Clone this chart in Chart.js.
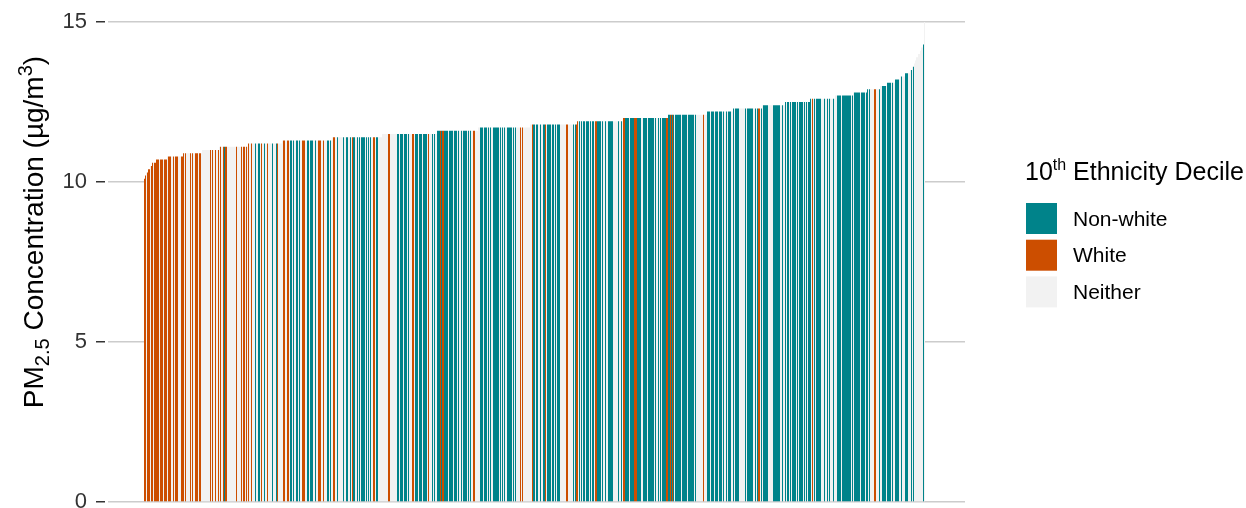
<!DOCTYPE html>
<html>
<head>
<meta charset="utf-8">
<script src="https://cdn.jsdelivr.net/npm/chart.js@4.4.1/dist/chart.umd.min.js"></script>
<style>
	html, body { margin: 0; padding: 0; background: #fff; }
	#wrap { width: 1246px; height: 508px; }
</style>
</head>
<body>
<div id="wrap"><canvas id="chart" width="1246" height="508"></canvas></div>
<script>
// PM2.5 per area, sorted ascending, coloured by which 10th ethnicity decile the area falls in
const FONT = "'Liberation Sans', Arial, sans-serif";

const decile_names = ['Non-white', 'White', 'Neither'];
const decile_codes = ['T', 'O', 'N'];
const decile_colors = ['#00838a', '#cc4e00', '#f2f2f2'];

// concentration levels (ug/m3) and number of areas at each level
const levels = [10.1, 10.2, 10.3, 10.4, 10.5, 10.6, 10.7, 10.8, 10.9, 11.0,
	11.1, 11.2, 11.3, 11.4, 11.5, 11.6, 11.7, 11.8, 11.9, 12.0,
	12.1, 12.2, 12.3, 12.4, 12.5, 12.6, 12.7, 12.8, 12.9, 13.0,
	13.1, 13.2, 13.3, 13.4, 13.5, 13.6, 13.7, 13.8, 13.9, 14.0,
	14.1, 14.2, 14.3, 15.0];
const level_counts = [1, 1, 2, 2, 2, 4, 11, 16, 19, 17,
	29, 34, 50, 50, 55, 41, 52, 47, 46, 45,
	39, 26, 29, 23, 25, 25, 18, 14, 13, 7,
	8, 5, 5, 5, 2, 2, 1, 1, 2, 2,
	1, 2, 1, 1];

// decile of each area in sorted order: T = non-white, O = white, N = neither
const area_deciles = [
	'OONOOONOONOOOOONOOONOOONOOONNO',
	'NOOONNNOOONONNNNONONNOOONOONNN',
	'NNNNNNONONNONNONONNOTOONNNNNNN',
	'NNONNNNONOONONONNONNNTNNTTNONN',
	'TNNONNNNTNNNTONNNNNOONNOONTTNT',
	'NNTTNTNNOOONNTTNTTTNNTNNOOONNO',
	'NNNTTNTNNOONNTNN',
	'NNNTNNTTNNTNOTTNNTNTNTTTTNTNTN',
	'TNNOONTTNNNNNNNNNNOONNNNNNNTTN',
	'TTTNTTTNTNNNOONTTTNTTTNTTTTNON',
	'NNTNTNNTTTOTOOTTTTNTTTTNTTTNTN',
	'NTNTTTTNTNTNNOONNNNNTTTNTTTNTN',
	'TNNTTTTTTNTNTNTNNTTTTTNTNTNNNN',
	'ONONNNNNNNNNOTTNTTNNTNNTTONTTT',
	'TNTTNTNTTTNNNNNNOONNNNNTNTOONT',
	'NTNTTNTTTNTNTTNOOTTTTNTNNTNNTT',
	'TTTNNNNNTNNTNOOTTTTNTTTTOOOTTT',
	'TNNTTTTNTTTTTTNTNNTNTNTTTTOOTT',
	'OTOTNTTTTTTNTTTTTNTTTTTTNTNNNN',
	'NNNONNNTTTNTTTNTTTNTTTNTNNTNTT',
	'TNNTNTTTTNNNNNNTNTTTTTTNNTNTOO',
	'NTNTTTTTNNNNNTTTTTTTNNTNNTNTTN',
	'TNTTTTNTNTTTTNTNTNTTTNONTNTTTT',
	'TNNNTNNTNTNNNTNNNTTTTNTTTTTTTT',
	'TNTNTTTTTTNTTTTNTTNTNNNNOONNNT',
	'NNTTTTNTTTTNTNNTTTTNNTNNNTTTNN',
	'NTNTNNNNNNNNNTN'
].join('');

const y_ticks = [0, 5, 10, 15];

let values = [];
levels.forEach((v, i) => {
	for (let k = 0; k < level_counts[i]; k++) {
		values.push(v);
	}
});
const N = values.length;

let datasets = decile_codes.map((code, c) => ({
	label: decile_names[c],
	data: values.map((v, i) => ({ x: i, y: v })).filter((p, i) => area_deciles[i] == code),
	backgroundColor: decile_colors[c],
	borderWidth: 0,
	inflateAmount: 0,
	grouped: false,
	categoryPercentage: 1,
	barPercentage: 1
}));

// y axis title with sub- and superscript
const axis_title = {
	id: 'axis_title',
	afterDraw(chart) {
		const ctx = chart.ctx;
		const parts = [
			['PM', 28, 0],
			['2.5', 20, 6],
			[' Concentration (\u00b5g/m', 28, 0],
			['3', 20, -11],
			[')', 28, 0]
		];
		ctx.save();
		ctx.fillStyle = '#000';
		ctx.textBaseline = 'alphabetic';
		let total = 0;
		parts.forEach(p => {
			ctx.font = p[1] + 'px ' + FONT;
			total += ctx.measureText(p[0]).width;
		});
		ctx.translate(43, 232);
		ctx.rotate(-Math.PI / 2);
		let x = -total / 2;
		parts.forEach(p => {
			ctx.font = p[1] + 'px ' + FONT;
			ctx.fillText(p[0], x, p[2]);
			x += ctx.measureText(p[0]).width;
		});
		ctx.restore();
	}
};

// legend on the right, title has a superscript so it is drawn by hand
const side_legend = {
	id: 'side_legend',
	afterDraw(chart) {
		const ctx = chart.ctx;
		ctx.save();
		ctx.fillStyle = '#000';
		ctx.textBaseline = 'alphabetic';
		let x = 1025;
		ctx.font = '25px ' + FONT;
		ctx.fillText('10', x, 180);
		x += ctx.measureText('10').width;
		ctx.font = '16px ' + FONT;
		ctx.fillText('th', x, 170);
		x += ctx.measureText('th').width;
		ctx.font = '25px ' + FONT;
		ctx.fillText(' Ethnicity Decile', x, 180);

		ctx.textBaseline = 'middle';
		ctx.font = '21px ' + FONT;
		chart.data.datasets.forEach((ds, i) => {
			let y = 203 + i * 36.7;
			ctx.fillStyle = ds.backgroundColor;
			ctx.fillRect(1026, y, 31, 31);
			ctx.fillStyle = '#000';
			ctx.fillText(ds.label, 1073, y + 17);
		});
		ctx.restore();
	}
};

let chart = new Chart(document.getElementById('chart'), {
	type: 'bar',
	data: { datasets: datasets },
	plugins: [axis_title, side_legend],
	options: {
		responsive: false,
		animation: false,
		devicePixelRatio: 1,
		layout: { padding: { left: 0, right: 281, top: 22, bottom: 6 } },
		plugins: {
			legend: { display: false },
			tooltip: { enabled: false }
		},
		scales: {
			x: {
				type: 'linear',
				display: false,
				offset: false,
				min: -36.5,
				max: N + 39.5
			},
			y: {
				min: 0,
				max: 15,
				afterBuildTicks: (scale) => { scale.ticks = y_ticks.map(v => ({ value: v })); },
				afterFit: (scale) => {
					scale.width = 108;
					scale.paddingTop = 0;
					scale.paddingBottom = 0;
				},
				ticks: {
					font: { family: FONT, size: 22 },
					color: '#333333',
					padding: 9
				},
				grid: {
					color: '#cccccc',
					lineWidth: 1.5,
					tickLength: 12,
					tickColor: '#333333',
					tickWidth: 1.5,
					tickBorderDash: [9, 12]
				},
				border: { display: false }
			}
		}
	}
});
</script>
</body>
</html>
